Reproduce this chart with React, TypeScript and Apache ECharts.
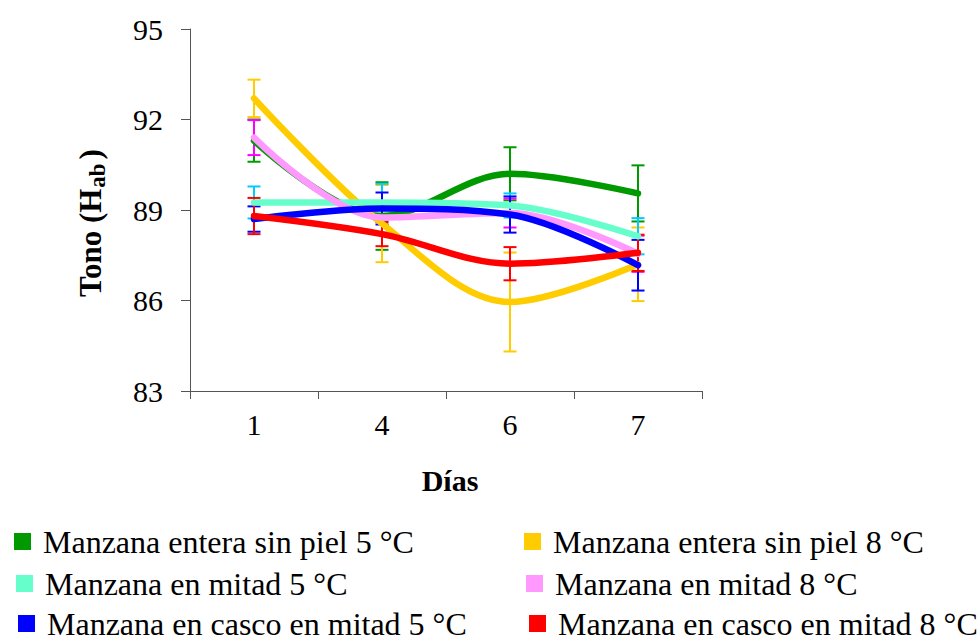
import React, { useEffect, useRef } from "react";
import * as echarts from "echarts";

const days = ["1", "4", "6", "7"];
const seriesNames = [
  "Manzana entera sin piel 5 °C",
  "Manzana entera sin piel 8 °C",
  "Manzana en mitad 5 °C",
  "Manzana en mitad 8 °C",
  "Manzana en casco en mitad 5 °C",
  "Manzana en casco en mitad 8 °C",
];
const enteraSinPiel5 = [91.3, 88.8, 90.2, 89.55];
const enteraSinPiel5Err = [0.7, 1.12, 0.88, 0.93];
const enteraSinPiel8 = [92.7, 88.55, 85.95, 87.2];
const enteraSinPiel8Err = [0.62, 1.28, 1.64, 1.22];
const mitad5 = [89.25, 89.25, 89.15, 88.13];
const mitad5Err = [0.53, 0.62, 0.4, 0.6];
const mitad8 = [91.4, 88.75, 88.9, 87.55];
const mitad8Err = [0.58, 0.5, 0.48, 0.6];
const casco5 = [88.7, 89.05, 88.85, 87.17];
const casco5Err = [0.42, 0.53, 0.6, 0.84];
const casco8 = [88.8, 88.2, 87.22, 87.58];
const casco8Err = [0.6, 0.4, 0.55, 0.6];
const yTicks = { min: 83, max: 95, interval: 3 };

const lineColors = ["#009900", "#FFCC00", "#66FFCC", "#FF99FF", "#0000FF", "#FF0000"];
const errColors = ["#009900", "#FFCC00", "#00CCFF", "#FF00FF", "#0000FF", "#FF0000"];

const FONT = "Times New Roman, Liberation Serif, DejaVu Serif, serif";

export default function App() {
  const ref = useRef<HTMLDivElement>(null);
  useEffect(() => {
    if (!ref.current) return;
    const chart = echarts.init(ref.current, undefined, { renderer: "svg" });
    const values = [enteraSinPiel5, enteraSinPiel8, mitad5, mitad8, casco5, casco8];
    const errs = [enteraSinPiel5Err, enteraSinPiel8Err, mitad5Err, mitad8Err, casco5Err, casco8Err];

    const errSeries = values.map((vals, s) => ({
      type: "custom",
      name: "err" + s,
      z: 1,
      silent: true,
      data: vals.map((v, i) => [i, v - errs[s][i], v + errs[s][i]]),
      encode: { x: 0, y: [1, 2] },
      renderItem: (params: any, api: any) => {
        const x = api.value(0);
        const lo = api.coord([x, api.value(1)]);
        const hi = api.coord([x, api.value(2)]);
        const hw = 6.5;
        const st = { stroke: errColors[s], lineWidth: 2 };
        return {
          type: "group",
          children: [
            { type: "line", shape: { x1: lo[0], y1: lo[1], x2: hi[0], y2: hi[1] }, style: st },
            { type: "line", shape: { x1: lo[0] - hw, y1: lo[1], x2: lo[0] + hw, y2: lo[1] }, style: st },
            { type: "line", shape: { x1: hi[0] - hw, y1: hi[1], x2: hi[0] + hw, y2: hi[1] }, style: st },
          ],
        };
      },
    }));

    const lineSeries = values.map((vals, s) => ({
      type: "line",
      name: seriesNames[s],
      data: vals,
      smooth: 0.34,
      showSymbol: false,
      z: 2 + s,
      color: lineColors[s],
      itemStyle: { color: lineColors[s] },
      lineStyle: { color: lineColors[s], width: 6.5, cap: "round", join: "round" },
    }));

    const legendPos = [
      [14, 541.5],
      [524, 541.5],
      [16, 583.5],
      [526, 583.5],
      [18, 623.5],
      [529, 623.5],
    ];
    const legends = seriesNames.map((n, i) => ({
      data: [{ name: n, textStyle: { fontFamily: FONT, fontSize: 32, color: "#000" } }],
      left: legendPos[i][0],
      top: legendPos[i][1] - 17,
      orient: "horizontal",
      padding: 0,
      itemGap: 0,
      itemWidth: 17,
      itemHeight: 17,
      icon: "rect",
      selectedMode: false,
      itemStyle: { borderWidth: 0 },
      textStyle: {
        fontFamily: FONT,
        fontSize: 32,
        color: "#000",
        lineHeight: 34,
        padding: [0, 0, 0, 7],
      },
    }));

    chart.setOption({
      animation: false,
      backgroundColor: "#fff",
      textStyle: { fontFamily: FONT },
      grid: { left: 190, right: 276, top: 29, bottom: 247, containLabel: false },
      legend: legends,
      xAxis: {
        type: "category",
        data: days,
        boundaryGap: true,
        axisLine: { lineStyle: { color: "#555", width: 1 } },
        axisTick: { show: true, length: 8, inside: false, alignWithLabel: false, lineStyle: { color: "#555" } },
        axisLabel: { fontFamily: FONT, fontSize: 30, color: "#000", margin: 18 },
        splitLine: { show: false },
      },
      yAxis: {
        type: "value",
        min: yTicks.min,
        max: yTicks.max,
        interval: yTicks.interval,
        axisLine: { show: true, lineStyle: { color: "#555", width: 1 } },
        axisTick: { show: true, length: 9, inside: false, lineStyle: { color: "#555" } },
        axisLabel: { fontFamily: FONT, fontSize: 30, color: "#000", margin: 27, padding: [0, 0, 6, 0] },
        splitLine: { show: false },
      },
      graphic: [
        {
          type: "text",
          x: 90,
          y: 223,
          rotation: Math.PI / 2,
          style: {
            text: "{a|Tono (H}{b|ab}{c|)}",
            align: "center",
            verticalAlign: "middle",
            fill: "#000",
            rich: {
              a: { fontFamily: FONT, fontSize: 31, fontWeight: "bold", lineHeight: 38, fill: "#000" },
              b: { fontFamily: FONT, fontSize: 23, fontWeight: "bold", lineHeight: 26, verticalAlign: "bottom", fill: "#000", padding: [0, 4, 0, 1] },
              c: { fontFamily: FONT, fontSize: 31, fontWeight: "bold", lineHeight: 38, fill: "#000" },
            },
          },
        },
        {
          type: "text",
          x: 450,
          y: 480,
          style: {
            text: "Días",
            fontFamily: FONT,
            fontSize: 30,
            fontWeight: "bold",
            fill: "#000",
            align: "center",
            verticalAlign: "middle",
          },
        },
      ],
      series: [...errSeries, ...lineSeries],
    });
    return () => chart.dispose();
  }, []);
  return (
    <div
      ref={ref}
      style={{ position: "absolute", left: 0, top: 0, width: 978, height: 638, background: "#fff" }}
    />
  );
}
